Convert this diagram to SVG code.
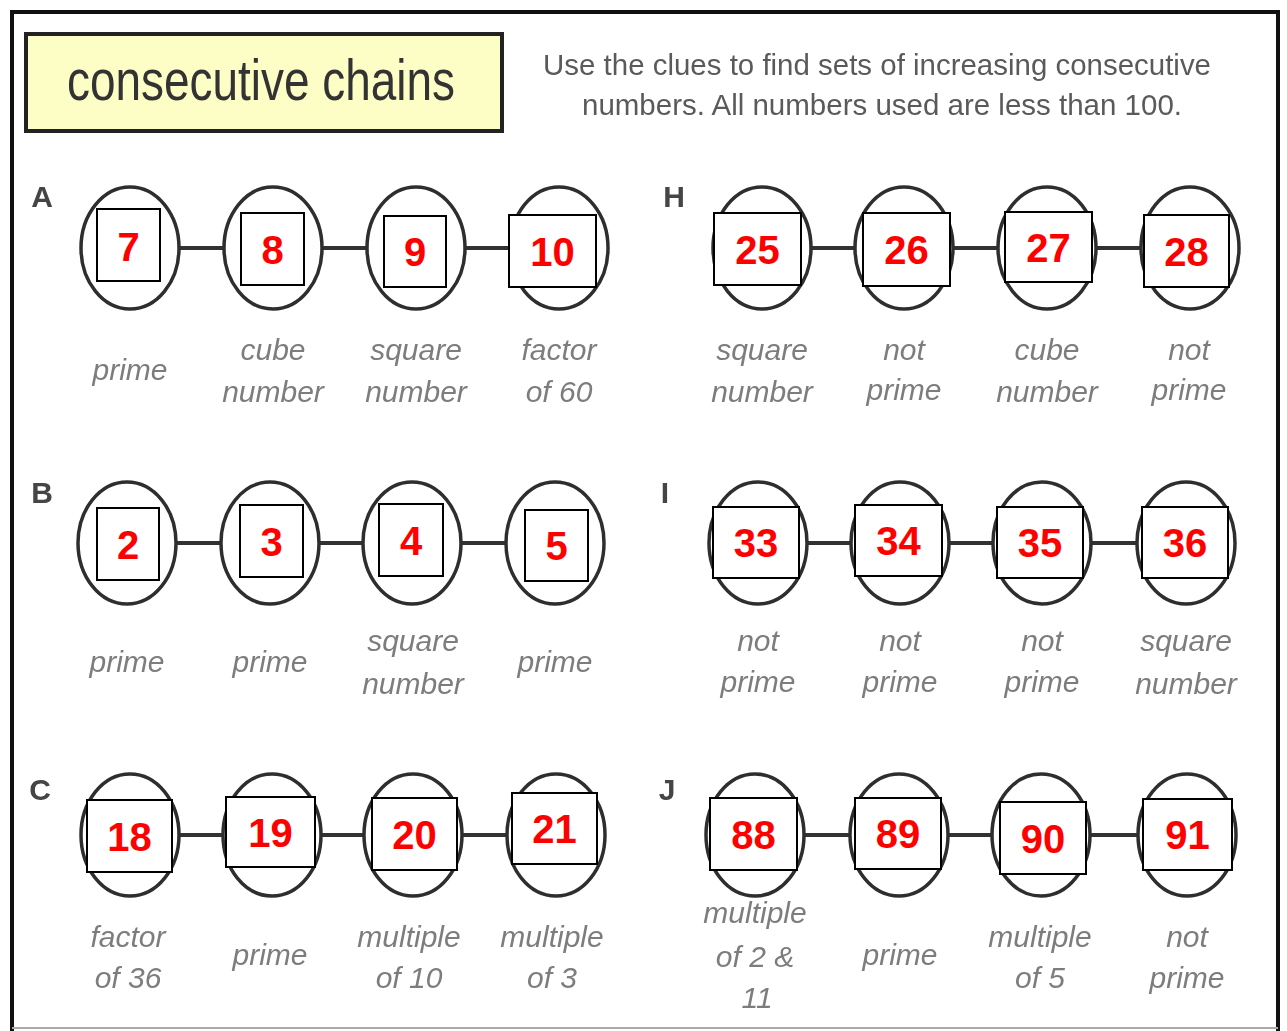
<svg xmlns="http://www.w3.org/2000/svg" width="1287" height="1031" viewBox="0 0 1287 1031">
<style>
.ring{fill:#fff;stroke:#2e2e2e;stroke-width:3.5}
.box{fill:#fff;stroke:#000;stroke-width:2}
.num{font-family:"Liberation Sans",Arial,sans-serif;font-weight:bold;font-size:40px;fill:#ff0000;text-anchor:middle}
.lbl{font-family:"Liberation Sans",Arial,sans-serif;font-style:italic;font-size:30px;fill:#7d7d7d;text-anchor:middle}
.row{font-family:"Liberation Sans",Arial,sans-serif;font-weight:bold;font-size:30px;fill:#444;text-anchor:middle}
.inst{font-family:"Liberation Sans",Arial,sans-serif;font-size:30px;fill:#5a5a5a;text-anchor:middle}
.conn line{stroke:#333;stroke-width:4}
</style>
<defs>
<filter id="soft" x="-5%" y="-5%" width="110%" height="110%"><feGaussianBlur stdDeviation="0.6"/></filter>
</defs>
<rect width="1287" height="1031" fill="#fff"/>
<path d="M12,1031 V12 H1278 V1031" fill="none" stroke="#111" stroke-width="4"/>
<line x1="12" y1="1028" x2="1278" y2="1028" stroke="#aaa" stroke-width="2"/>
<g id="title">
<rect x="26" y="34" width="476" height="97" fill="#fdfdc6" stroke="#222" stroke-width="4"/>
<text x="67" y="100" font-family="Liberation Sans,Arial,sans-serif" font-size="58" fill="#333" textLength="388" lengthAdjust="spacingAndGlyphs">consecutive  chains</text>
</g>
<g id="instructions" filter="url(#soft)">
<text class="inst" x="877" y="75" textLength="668" lengthAdjust="spacingAndGlyphs">Use the clues to find sets of increasing consecutive</text>
<text class="inst" x="882" y="115" textLength="600" lengthAdjust="spacingAndGlyphs">numbers. All numbers used are less than 100.</text>
</g>
<g id="row-letters" filter="url(#soft)">
<text class="row" x="42" y="207">A</text>
<text class="row" x="674" y="207">H</text>
<text class="row" x="42" y="503">B</text>
<text class="row" x="665" y="503">I</text>
<text class="row" x="40" y="800">C</text>
<text class="row" x="667" y="800">J</text>
</g>
<g id="connectors" class="conn" filter="url(#soft)">
<line x1="179" y1="248" x2="224" y2="248"/><line x1="322" y1="248" x2="367" y2="248"/><line x1="465" y1="248" x2="510" y2="248"/>
<line x1="811" y1="248" x2="855" y2="248"/><line x1="953" y1="248" x2="998" y2="248"/><line x1="1096" y1="248" x2="1141" y2="248"/>
<line x1="176" y1="543" x2="221" y2="543"/><line x1="319" y1="543" x2="363" y2="543"/><line x1="461" y1="543" x2="506" y2="543"/>
<line x1="807" y1="543" x2="851" y2="543"/><line x1="949" y1="543" x2="993" y2="543"/><line x1="1091" y1="543" x2="1137" y2="543"/>
<line x1="179" y1="835" x2="223" y2="835"/><line x1="321" y1="835" x2="364" y2="835"/><line x1="462" y1="835" x2="507" y2="835"/>
<line x1="804" y1="835" x2="850" y2="835"/><line x1="948" y1="835" x2="992" y2="835"/><line x1="1090" y1="835" x2="1138" y2="835"/>
</g>

<g id="A1"><ellipse class="ring" cx="130" cy="248" rx="49" ry="61" filter="url(#soft)"/><rect class="box" x="97" y="209" width="63" height="72"/><text class="num" x="128.5" y="261">7</text><text class="lbl" x="130" y="380" filter="url(#soft)">prime</text></g>
<g id="A2"><ellipse class="ring" cx="273" cy="248" rx="49" ry="61" filter="url(#soft)"/><rect class="box" x="241" y="213" width="63" height="72"/><text class="num" x="272.5" y="264">8</text><text class="lbl" x="273" filter="url(#soft)"><tspan x="273" y="360">cube</tspan><tspan x="273" y="402">number</tspan></text></g>
<g id="A3"><ellipse class="ring" cx="416" cy="248" rx="49" ry="61" filter="url(#soft)"/><rect class="box" x="384" y="216" width="62" height="71"/><text class="num" x="415" y="266">9</text><text class="lbl" x="416" filter="url(#soft)"><tspan x="416" y="360">square</tspan><tspan x="416" y="402">number</tspan></text></g>
<g id="A4"><ellipse class="ring" cx="559" cy="248" rx="49" ry="61" filter="url(#soft)"/><rect class="box" x="509" y="215" width="87" height="72"/><text class="num" x="552.5" y="266">10</text><text class="lbl" x="559" filter="url(#soft)"><tspan x="559" y="360">factor</tspan><tspan x="559" y="402">of 60</tspan></text></g>

<g id="H1"><ellipse class="ring" cx="762" cy="248" rx="49" ry="61" filter="url(#soft)"/><rect class="box" x="714" y="213" width="87" height="72"/><text class="num" x="757.5" y="264">25</text><text class="lbl" x="762" filter="url(#soft)"><tspan x="762" y="360">square</tspan><tspan x="762" y="402">number</tspan></text></g>
<g id="H2"><ellipse class="ring" cx="904" cy="248" rx="49" ry="61" filter="url(#soft)"/><rect class="box" x="863" y="213" width="87" height="73"/><text class="num" x="906.5" y="264">26</text><text class="lbl" x="904" filter="url(#soft)"><tspan x="904" y="360">not</tspan><tspan x="904" y="400">prime</tspan></text></g>
<g id="H3"><ellipse class="ring" cx="1047" cy="248" rx="49" ry="61" filter="url(#soft)"/><rect class="box" x="1005" y="212" width="87" height="70"/><text class="num" x="1048.5" y="262">27</text><text class="lbl" x="1047" filter="url(#soft)"><tspan x="1047" y="360">cube</tspan><tspan x="1047" y="402">number</tspan></text></g>
<g id="H4"><ellipse class="ring" cx="1190" cy="248" rx="49" ry="61" filter="url(#soft)"/><rect class="box" x="1144" y="215" width="85" height="72"/><text class="num" x="1186.5" y="266">28</text><text class="lbl" x="1189" filter="url(#soft)"><tspan x="1189" y="360">not</tspan><tspan x="1189" y="400">prime</tspan></text></g>

<g id="B1"><ellipse class="ring" cx="127" cy="543" rx="49" ry="61" filter="url(#soft)"/><rect class="box" x="97" y="508" width="62" height="72"/><text class="num" x="128" y="559">2</text><text class="lbl" x="127" y="672" filter="url(#soft)">prime</text></g>
<g id="B2"><ellipse class="ring" cx="270" cy="543" rx="49" ry="61" filter="url(#soft)"/><rect class="box" x="240" y="505" width="63" height="72"/><text class="num" x="271.5" y="556">3</text><text class="lbl" x="270" y="672" filter="url(#soft)">prime</text></g>
<g id="B3"><ellipse class="ring" cx="412" cy="543" rx="49" ry="61" filter="url(#soft)"/><rect class="box" x="379" y="504" width="64" height="72"/><text class="num" x="411" y="555">4</text><text class="lbl" x="413" filter="url(#soft)"><tspan x="413" y="651">square</tspan><tspan x="413" y="694">number</tspan></text></g>
<g id="B4"><ellipse class="ring" cx="555" cy="543" rx="49" ry="61" filter="url(#soft)"/><rect class="box" x="525" y="510" width="63" height="71"/><text class="num" x="556.5" y="560">5</text><text class="lbl" x="555" y="672" filter="url(#soft)">prime</text></g>

<g id="I1"><ellipse class="ring" cx="758" cy="543" rx="49" ry="61" filter="url(#soft)"/><rect class="box" x="713" y="507" width="86" height="71"/><text class="num" x="756" y="557">33</text><text class="lbl" x="758" filter="url(#soft)"><tspan x="758" y="651">not</tspan><tspan x="758" y="692">prime</tspan></text></g>
<g id="I2"><ellipse class="ring" cx="900" cy="543" rx="49" ry="61" filter="url(#soft)"/><rect class="box" x="855" y="505" width="87" height="71"/><text class="num" x="898.5" y="555">34</text><text class="lbl" x="900" filter="url(#soft)"><tspan x="900" y="651">not</tspan><tspan x="900" y="692">prime</tspan></text></g>
<g id="I3"><ellipse class="ring" cx="1042" cy="543" rx="49" ry="61" filter="url(#soft)"/><rect class="box" x="997" y="507" width="86" height="71"/><text class="num" x="1040" y="557">35</text><text class="lbl" x="1042" filter="url(#soft)"><tspan x="1042" y="651">not</tspan><tspan x="1042" y="692">prime</tspan></text></g>
<g id="I4"><ellipse class="ring" cx="1186" cy="543" rx="49" ry="61" filter="url(#soft)"/><rect class="box" x="1142" y="507" width="86" height="71"/><text class="num" x="1185" y="557">36</text><text class="lbl" x="1186" filter="url(#soft)"><tspan x="1186" y="651">square</tspan><tspan x="1186" y="694">number</tspan></text></g>

<g id="C1"><ellipse class="ring" cx="130" cy="835" rx="49" ry="61" filter="url(#soft)"/><rect class="box" x="87" y="800" width="85" height="72"/><text class="num" x="129.5" y="851">18</text><text class="lbl" x="128" filter="url(#soft)"><tspan x="128" y="947">factor</tspan><tspan x="128" y="988">of 36</tspan></text></g>
<g id="C2"><ellipse class="ring" cx="272" cy="835" rx="49" ry="61" filter="url(#soft)"/><rect class="box" x="226" y="797" width="89" height="70"/><text class="num" x="270.5" y="847">19</text><text class="lbl" x="270" y="965" filter="url(#soft)">prime</text></g>
<g id="C3"><ellipse class="ring" cx="413" cy="835" rx="49" ry="61" filter="url(#soft)"/><rect class="box" x="372" y="798" width="85" height="72"/><text class="num" x="414.5" y="849">20</text><text class="lbl" x="409" filter="url(#soft)"><tspan x="409" y="947">multiple</tspan><tspan x="409" y="988">of 10</tspan></text></g>
<g id="C4"><ellipse class="ring" cx="556" cy="835" rx="49" ry="61" filter="url(#soft)"/><rect class="box" x="512" y="793" width="85" height="71"/><text class="num" x="554.5" y="843">21</text><text class="lbl" x="552" filter="url(#soft)"><tspan x="552" y="947">multiple</tspan><tspan x="552" y="988">of 3</tspan></text></g>

<g id="J1"><ellipse class="ring" cx="755" cy="835" rx="49" ry="61" filter="url(#soft)"/><rect class="box" x="710" y="798" width="87" height="72"/><text class="num" x="753.5" y="849">88</text><text class="lbl" x="755" filter="url(#soft)"><tspan x="755" y="923">multiple</tspan><tspan x="755" y="967">of 2 &amp;</tspan><tspan x="757" y="1008">11</tspan></text></g>
<g id="J2"><ellipse class="ring" cx="899" cy="835" rx="49" ry="61" filter="url(#soft)"/><rect class="box" x="855" y="798" width="86" height="71"/><text class="num" x="898" y="848">89</text><text class="lbl" x="900" y="965" filter="url(#soft)">prime</text></g>
<g id="J3"><ellipse class="ring" cx="1041" cy="835" rx="49" ry="61" filter="url(#soft)"/><rect class="box" x="1000" y="802" width="86" height="72"/><text class="num" x="1043" y="853">90</text><text class="lbl" x="1040" filter="url(#soft)"><tspan x="1040" y="947">multiple</tspan><tspan x="1040" y="988">of 5</tspan></text></g>
<g id="J4"><ellipse class="ring" cx="1187" cy="835" rx="49" ry="61" filter="url(#soft)"/><rect class="box" x="1143" y="799" width="89" height="71"/><text class="num" x="1187.5" y="849">91</text><text class="lbl" x="1187" filter="url(#soft)"><tspan x="1187" y="947">not</tspan><tspan x="1187" y="988">prime</tspan></text></g>
</svg>
